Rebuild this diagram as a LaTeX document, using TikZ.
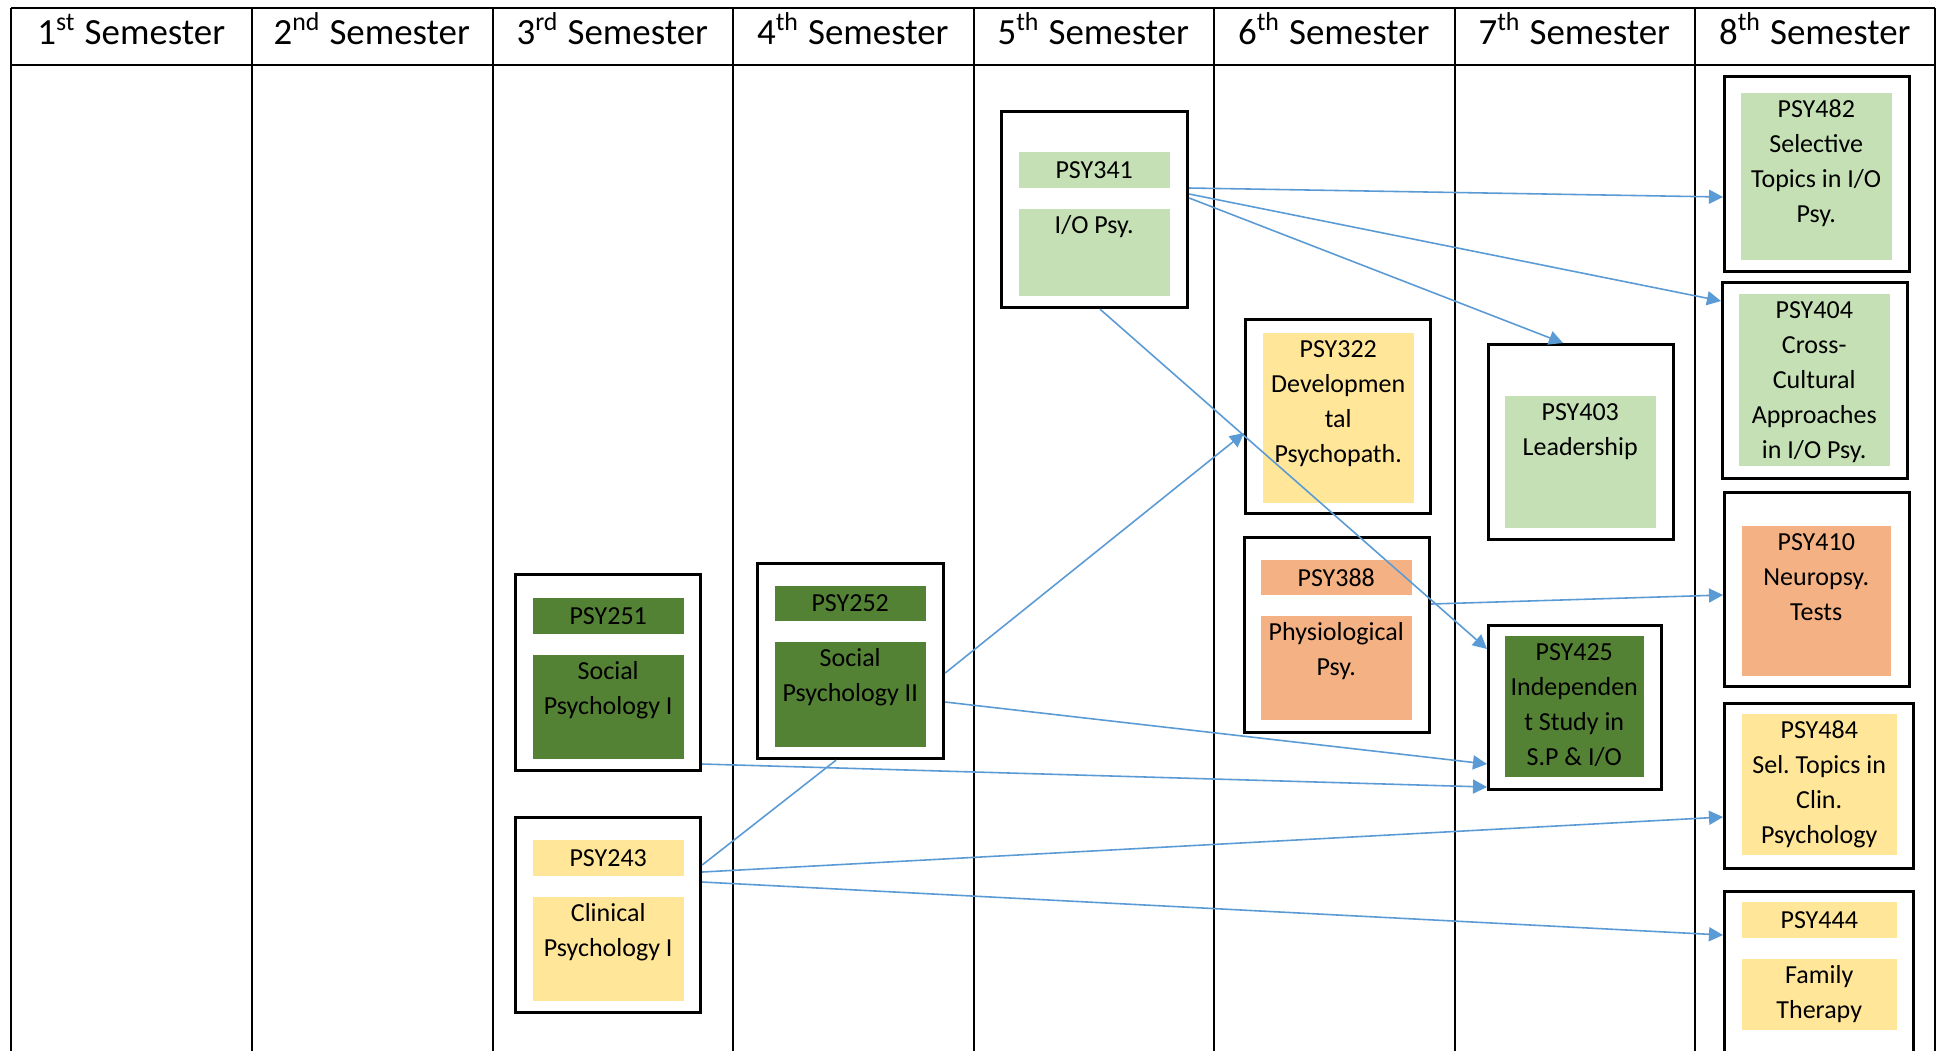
\documentclass[tikz,border=0pt]{standalone}
\usepackage{fontspec}
\setmainfont{Carlito}
\usetikzlibrary{arrows.meta}

\definecolor{lightgrn}{HTML}{C5E0B4}
\definecolor{darkgrn}{HTML}{548235}
\definecolor{paleyel}{HTML}{FFE699}
\definecolor{salmon}{HTML}{F4B183}
\definecolor{linkblue}{HTML}{5B9BD5}

\newcommand\boxfont{\fontsize{7.4pt}{9.96pt}\selectfont\frenchspacing}
\newcommand\headfont{\fontsize{10.5pt}{12pt}\selectfont}

\tikzset{
  frame/.style={draw, line width=0.9pt, inner sep=0pt, anchor=north west},
  tile/.style={inner sep=0pt, anchor=north west, font=\boxfont},
  tiletext/.style={anchor=north, inner sep=0pt, align=center, font=\boxfont},
  link/.style={draw=linkblue, line width=0.45pt, -{Triangle[length=4pt,width=4pt]}},
  grid line/.style={line width=0.6pt},
}

\begin{document}
\begin{tikzpicture}[x=1cm,y=-1cm]
  \def\crsframe#1#2#3#4#5{\node[frame, minimum width=#4cm, minimum height=#5cm] (#1) at (#2,#3) {};}
  \def\crsfill#1#2#3#4#5#6#7{\node[tile, fill=#6, minimum width=#4cm, minimum height=#5cm] (#1) at (#2,#3) {#7};}
  \def\crstext#1#2{\node[tiletext] (#1txt) at (#1.north) {\rule{0pt}{7.1pt}#2};}

  \fill[white] (0,0) rectangle (19.41,10.50);
  \useasboundingbox (0,0) rectangle (19.41,10.50);

  % table
  \foreach \x in {0.11,2.52,4.93,7.33,9.74,12.14,14.55,16.95,19.35}
    \draw[grid line] (\x,0.08) -- (\x,10.6);
  \draw[grid line] (0.11,0.08) -- (19.35,0.08) (0.11,0.65) -- (19.35,0.65);
  \foreach \n/\sx [count=\i] in {1/st,2/nd,3/rd,4/th,5/th,6/th,7/th,8/th}
    \node[anchor=base, font=\headfont] (head\i) at ({0.11+2.405*(\i-0.5)},0.44) {\n\textsuperscript{\sx} Semester};

  % 3rd semester
  \crsframe{s251}{5.14}{5.73}{1.85}{1.96}
  \crsfill{c251}{5.32}{5.97}{1.51}{0.36}{darkgrn}{PSY251}
  \crsfill{t251}{5.32}{6.54}{1.51}{1.04}{darkgrn}{} \crstext{t251}{Social\\Psychology I}
  \crsframe{s243}{5.14}{8.16}{1.85}{1.95}
  \crsfill{c243}{5.32}{8.39}{1.51}{0.36}{paleyel}{PSY243}
  \crsfill{t243}{5.32}{8.96}{1.51}{1.04}{paleyel}{} \crstext{t243}{Clinical\\Psychology I}

  % 4th semester
  \crsframe{s252}{7.56}{5.62}{1.86}{1.95}
  \crsfill{c252}{7.74}{5.85}{1.51}{0.35}{darkgrn}{PSY252}
  \crsfill{t252}{7.74}{6.41}{1.51}{1.05}{darkgrn}{} \crstext{t252}{Social\\Psychology II}

  % 5th semester
  \crsframe{s341}{10.00}{1.10}{1.86}{1.96}
  \crsfill{c341}{10.18}{1.51}{1.51}{0.36}{lightgrn}{PSY341}
  \crsfill{t341}{10.18}{2.08}{1.51}{0.87}{lightgrn}{} \crstext{t341}{I/O Psy.}

  % 6th semester
  \crsframe{s322}{12.44}{3.18}{1.85}{1.94}
  \crsfill{f322}{12.62}{3.32}{1.51}{1.70}{paleyel}{} \crstext{f322}{PSY322\\Developmen\\tal\\Psychopath.}
  \crsframe{s388}{12.43}{5.36}{1.85}{1.95}
  \crsfill{c388}{12.60}{5.59}{1.51}{0.35}{salmon}{PSY388}
  \crsfill{t388}{12.60}{6.15}{1.51}{1.04}{salmon}{} \crstext{t388}{Physiological\\Psy.}

  % 7th semester
  \crsframe{s403}{14.87}{3.43}{1.85}{1.95}
  \crsfill{f403}{15.04}{3.95}{1.51}{1.32}{lightgrn}{} \crstext{f403}{PSY403\\Leadership}
  \crsframe{s425}{14.87}{6.24}{1.73}{1.64}
  \crsfill{f425}{15.04}{6.35}{1.39}{1.41}{darkgrn}{} \crstext{f425}{PSY425\\Independen\\t Study in\\S.P \& I/O}

  % 8th semester
  \crsframe{s482}{17.23}{0.75}{1.85}{1.95}
  \crsfill{f482}{17.40}{0.92}{1.51}{1.67}{lightgrn}{} \crstext{f482}{PSY482\\Selective\\Topics in I/O\\Psy.}
  \crsframe{s404}{17.21}{2.81}{1.85}{1.96}
  \crsfill{f404}{17.38}{2.93}{1.51}{1.72}{lightgrn}{} \crstext{f404}{PSY404\\Cross-\\Cultural\\Approaches\\in I/O Psy.}
  \crsframe{s410}{17.23}{4.91}{1.85}{1.94}
  \crsfill{f410}{17.41}{5.25}{1.49}{1.50}{salmon}{} \crstext{f410}{PSY410\\Neuropsy.\\Tests}
  \crsframe{s484}{17.23}{7.02}{1.89}{1.65}
  \crsfill{f484}{17.41}{7.13}{1.55}{1.41}{paleyel}{} \crstext{f484}{PSY484\\Sel. Topics in\\Clin.\\Psychology}
  \crsframe{s444}{17.23}{8.90}{1.89}{1.80}
  \crsfill{c444}{17.41}{9.01}{1.55}{0.36}{paleyel}{PSY444}
  \crsfill{t444}{17.41}{9.58}{1.55}{0.71}{paleyel}{} \crstext{t444}{Family\\Therapy}

  % prerequisites
  \draw[link] (s341.east |- 0,1.88) -- (s482.west |- 0,1.97);
  \draw[link] (s341.east |- 0,1.94) -- (s404.west |- 0,3.01);
  \draw[link] (s341.east |- 0,1.98) -- (s403.north -| 15.63,0);
  \draw[link] (s341.south -| 11.00,0) -- (s425.west |- 0,6.49);
  \draw[link] (s252.east |- 0,6.73) -- (s322.west |- 0,4.33);
  \draw[link] (s252.east |- 0,7.02) -- (s425.west |- 0,7.64);
  \draw[link] (s251.east |- 0,7.64) -- (s425.west |- 0,7.87);
  \draw[linkblue, line width=0.45pt] (s243.east |- 0,8.65) -- (s252.south -| 8.36,0);
  \draw[link] (s243.east |- 0,8.72) -- (s484.west |- 0,8.17);
  \draw[link] (s243.east |- 0,8.82) -- (s444.west |- 0,9.35);
  \draw[link] (s388.east |- 0,6.04) -- (s410.west |- 0,5.95);
\end{tikzpicture}
\end{document}
